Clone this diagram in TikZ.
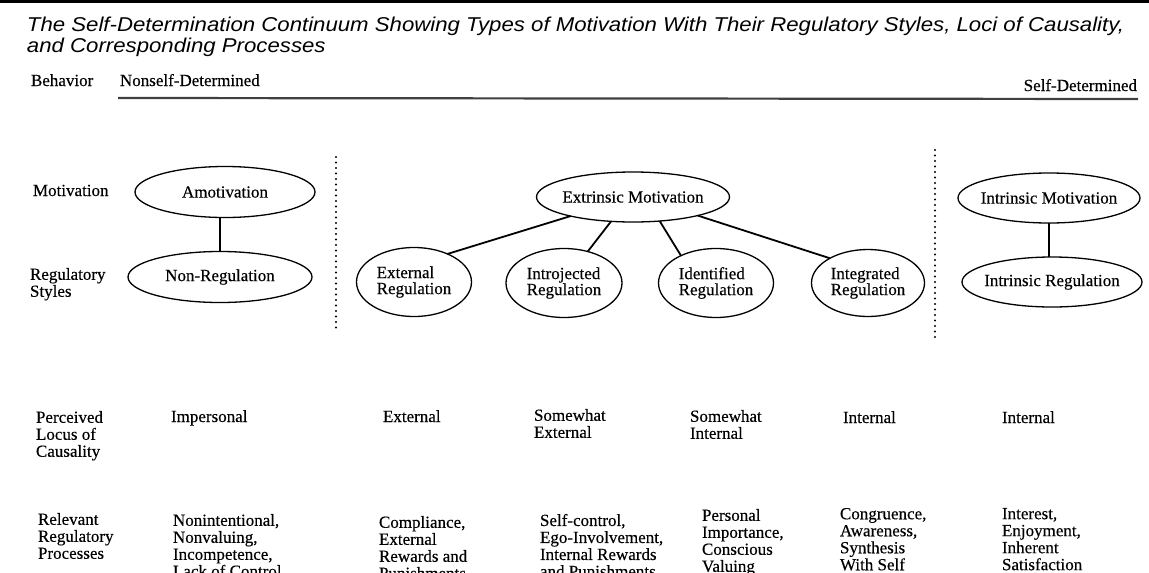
\documentclass[tikz,border=0pt]{standalone}
\usepackage{fontspec}
\setmainfont[FakeBold=0.3]{Liberation Serif}
\newfontfamily\titlefont[FakeStretch=1.11]{Liberation Sans}
\usetikzlibrary{shapes.geometric}

\begin{document}
\begin{tikzpicture}[x=1pt, y=-1pt,
  every node/.style={inner sep=0pt, outer sep=0pt, font=\fontsize{17}{17}\selectfont},
  lbl/.style={anchor=base west},
  blk/.style={anchor=north west, align=left},
  oval/.style={draw, ellipse, line width=1.3pt, inner xsep=-14pt, align=left,
    font=\fontsize{17}{16}\selectfont},
  link/.style={line width=1.8pt},
  sepline/.style={line width=2.2pt, line cap=round, dash pattern=on 0pt off 5.5pt}]

\clip (0,0) rectangle (1149,573);
\fill[white] (0,0) rectangle (1149,573);

% Draw the rule and the title
\fill (0,0) rectangle (1149,3);
\node[blk, font=\titlefont\itshape\fontsize{20}{21}\selectfont] (title) at (27,17.5)
  {The Self-Determination Continuum Showing Types of Motivation With Their Regulatory Styles, Loci of Causality,\\and Corresponding Processes};

% Draw the behavior continuum
\node[lbl] (behav) at (31,86) {Behavior};
\node[lbl] (nonself) at (120,86) {Nonself-Determined};
\node[lbl, anchor=base east] (selfdet) at (1137,91) {Self-Determined};
\coordinate (contL) at (118,98);
\coordinate (contR) at (1138,99);
\draw[black!75, line width=2.2pt] (contL) -- (contR);

% Draw the row labels
\node[lbl] (motlbl) at (33,196) {Motivation};
\node[blk] (reglbl) at (30,268) {Regulatory\\Styles};
\node[blk] (loclbl) at (36,411) {Perceived\\Locus of\\Causality};
\node[blk] (proclbl) at (38,513) {Relevant\\Regulatory\\Processes};

% Draw the ellipses
\node[oval, minimum width=180pt, minimum height=51pt] (amot) at (225,192) {Amotivation};
\node[oval, minimum width=184pt, minimum height=51pt] (nonreg) at (220,277) {Non-Regulation};
\node[oval, minimum width=193pt, minimum height=50pt] (extr) at (633,197) {Extrinsic Motivation};
\node[oval, minimum width=115pt, minimum height=69pt] (extreg) at (414,282) {External\\Regulation};
\node[oval, minimum width=116pt, minimum height=69pt] (introreg) at (564,283) {Introjected\\Regulation};
\node[oval, minimum width=115pt, minimum height=69pt] (identreg) at (716,283) {Identified\\Regulation};
\node[oval, minimum width=113pt, minimum height=67pt] (integreg) at (868,283) {Integrated\\Regulation};
\node[oval, minimum width=182pt, minimum height=50pt] (intrmot) at (1049,198) {Intrinsic Motivation};
\node[oval, minimum width=180pt, minimum height=50pt] (intrreg) at (1052,282) {Intrinsic Regulation};

% Draw the links
\draw[link] (nonreg.north) -- (nonreg.north |- amot.south);
\draw[link] (extr.197.6) -- (extreg.40);
\draw[link] (extr.228) -- (introreg.53);
\draw[link] (extr.318) -- (identreg.142);
\draw[link] (extr.344) -- (integreg.147);
\draw[link] (intrmot.south) -- (intrmot.south |- intrreg.north);

% Draw the dotted separators
\coordinate (sepA1) at (336,157);
\coordinate (sepA2) at (336,330);
\coordinate (sepB1) at (935,150);
\coordinate (sepB2) at (935,340);
\draw[sepline] (sepA1) -- (sepA2);
\draw[sepline] (sepB1) -- (sepB2);

% Draw the loci of causality
\node[lbl] (locA) at (171,422) {Impersonal};
\node[lbl] (locB) at (383,422) {External};
\node[blk] (locC) at (534,409) {Somewhat\\External};
\node[blk] (locD) at (690,410) {Somewhat\\Internal};
\node[lbl] (locE) at (843,423) {Internal};
\node[lbl] (locF) at (1002,423) {Internal};

% Draw the regulatory processes
\node[blk] (procA) at (173,514) {Nonintentional,\\Nonvaluing,\\Incompetence,\\Lack of Control};
\node[blk] (procB) at (379,516) {Compliance,\\External\\Rewards and\\Punishments};
\node[blk] (procC) at (540,514) {Self-control,\\Ego-Involvement,\\Internal Rewards\\and Punishments};
\node[blk] (procD) at (702,509) {Personal\\Importance,\\Conscious\\Valuing};
\node[blk] (procE) at (840,508) {Congruence,\\Awareness,\\Synthesis\\With Self};
\node[blk] (procF) at (1002,508) {Interest,\\Enjoyment,\\Inherent\\Satisfaction};
\end{tikzpicture}
\end{document}
